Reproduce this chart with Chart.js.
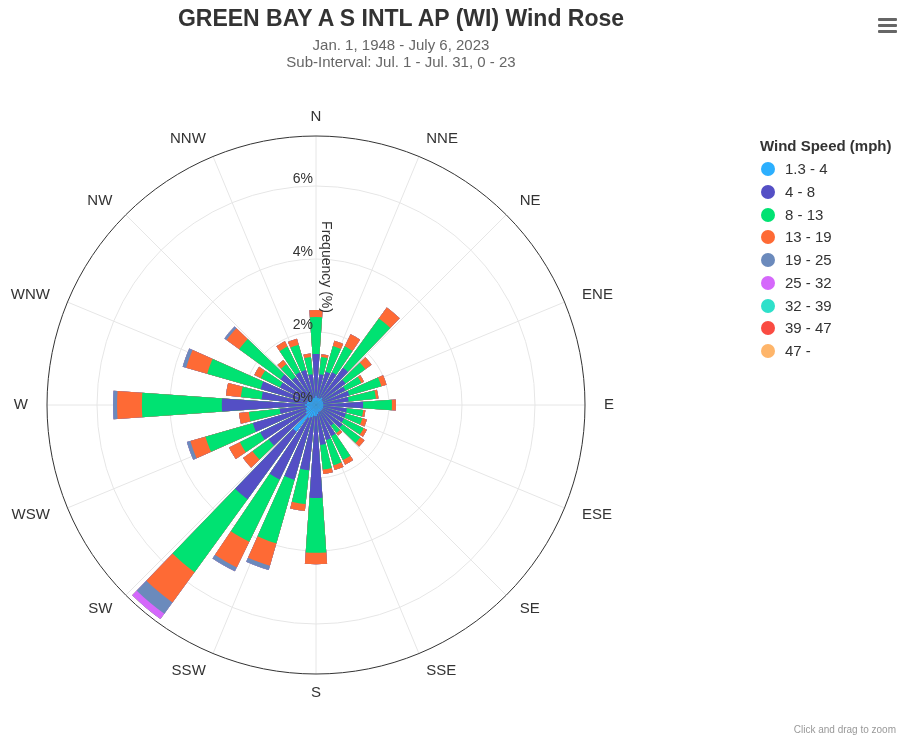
<!DOCTYPE html>
<html>
<head>
<meta charset="utf-8">
<title>Wind Rose</title>
<script src="https://cdn.jsdelivr.net/npm/chart.js@4.4.1/dist/chart.umd.min.js"></script>
<style>
  body { margin: 0; background: #fff; font-family: "Liberation Sans", Arial, Helvetica, sans-serif; }
  #wrap { position: relative; width: 898px; height: 739px; overflow: hidden; }
  #chartBox { position: absolute; left: 0; top: 0; width: 898px; height: 739px; }
  .ctr { position: absolute; transform: translateX(-50%); white-space: nowrap; }
  #title { left: 401px; top: 5px; font-size: 23px; font-weight: bold; color: #333; }
  .sub { font-size: 15px; color: #666; }
  #legend { position: absolute; left: 760px; top: 135px; color: #333; font-size: 15px; }
  #legend .head { font-weight: bold; height: 23px; line-height: 22px; white-space: nowrap; }
  #legend .item { position: relative; height: 22.75px; line-height: 22px; padding-left: 25px; white-space: nowrap; }
  #legend .dot { position: absolute; left: 1px; top: 4px; width: 14px; height: 14px; border-radius: 50%; }
  .burger { position: absolute; left: 878px; width: 19px; height: 3px; background: #666; border-radius: 1px; }
  #zoomNote { position: absolute; right: 2px; top: 724px; font-size: 10px; color: #999; }
</style>
</head>
<body>
<div id="wrap">
  <div id="chartBox"><canvas id="rose"></canvas></div>
  <div id="title" class="ctr">GREEN BAY A S INTL AP (WI) Wind Rose</div>
  <div class="ctr sub" style="left:401px; top:36px;">Jan. 1, 1948 - July 6, 2023</div>
  <div class="ctr sub" style="left:401px; top:53px;">Sub-Interval: Jul. 1 - Jul. 31, 0 - 23</div>
  <div id="legend"></div>
  <div class="burger" style="top:18px"></div>
  <div class="burger" style="top:24px"></div>
  <div class="burger" style="top:30px"></div>
  <div id="zoomNote">Click and drag to zoom</div>
</div>
<script>
// direction bins, 10 degrees each, starting at N
const binAngles = [0, 10, 20, 30, 40, 50, 60, 70, 80, 90, 100, 110, 120, 130, 140, 150, 160, 170,
  180, 190, 200, 210, 220, 230, 240, 250, 260, 270, 280, 290, 300, 310, 320, 330, 340, 350];

const compassLabels = ["N", "NNE", "NE", "ENE", "E", "ESE", "SE", "SSE",
  "S", "SSW", "SW", "WSW", "W", "WNW", "NW", "NNW"];

const speedBins = ["1.3 - 4", "4 - 8", "8 - 13", "13 - 19", "19 - 25", "25 - 32", "32 - 39", "39 - 47", "47 -"];
const speedColors = ["#2caffe", "#544fc5", "#00e272", "#fe6a35", "#6b8abc", "#d568fb", "#2ee0ca", "#fa4b42", "#feb56a"];

// frequency (%) per direction bin for each speed class
const s1_3to4 = [0.25, 0.20, 0.20, 0.20, 0.25, 0.20, 0.20, 0.20, 0.20, 0.20, 0.20, 0.20, 0.20, 0.20, 0.20, 0.20, 0.20, 0.25,
  0.30, 0.30, 0.35, 0.40, 0.90, 0.35, 0.30, 0.30, 0.25, 0.30, 0.25, 0.25, 0.20, 0.20, 0.20, 0.20, 0.20, 0.20];
const s4to8 = [1.15, 0.65, 0.75, 0.80, 1.01, 0.80, 0.70, 0.75, 0.70, 1.09, 0.65, 0.65, 0.65, 0.70, 0.50, 0.75, 0.80, 0.85,
  2.25, 1.50, 1.78, 1.87, 2.29, 1.25, 1.40, 1.50, 0.75, 2.28, 1.25, 1.33, 0.90, 1.00, 0.75, 0.80, 0.80, 0.65];
const s8to13 = [1.01, 0.47, 0.73, 0.79, 1.67, 0.67, 0.48, 0.91, 0.75, 0.79, 0.45, 0.47, 0.60, 0.60, 0.25, 0.73, 0.72, 0.68,
  1.50, 0.93, 1.81, 1.90, 2.47, 0.55, 0.62, 1.35, 0.85, 2.19, 0.57, 1.52, 0.58, 1.40, 0.43, 0.78, 0.72, 0.47];
const s13to19 = [0.19, 0.08, 0.15, 0.37, 0.37, 0.21, 0.08, 0.15, 0.07, 0.11, 0.06, 0.13, 0.10, 0.14, 0.08, 0.14, 0.13, 0.12,
  0.31, 0.19, 0.64, 0.78, 1.03, 0.32, 0.33, 0.43, 0.27, 0.68, 0.41, 0.60, 0.20, 0.43, 0.14, 0.16, 0.17, 0.10];
const s19to25 = [0, 0, 0, 0, 0, 0, 0, 0, 0, 0, 0, 0, 0, 0, 0, 0, 0, 0,
  0, 0, 0.12, 0.12, 0.38, 0, 0, 0.10, 0, 0.11, 0, 0.10, 0, 0.07, 0, 0, 0, 0];
const s25to32 = [0, 0, 0, 0, 0, 0, 0, 0, 0, 0, 0, 0, 0, 0, 0, 0, 0, 0,
  0, 0, 0, 0, 0.18, 0, 0, 0, 0, 0, 0, 0, 0, 0, 0, 0, 0, 0];
const s32to39 = binAngles.map(() => 0);
const s39to47 = binAngles.map(() => 0);
const s47up = binAngles.map(() => 0);

const seriesValues = [s1_3to4, s4to8, s8to13, s13to19, s19to25, s25to32, s32to39, s39to47, s47up];

const tickValues = [0, 2, 4, 6];
const tickLabels = ["0%", "2%", "4%", "6%"];
const axisMax = 7.37;

const barWidth = 8;   // degrees of each column
const gapWidth = 2;   // degrees of white gap

// polar area cannot stack, so each class is drawn as its cumulative total,
// the first dataset sits on top
const labels = [];
binAngles.forEach(a => { labels.push(a + "°"); labels.push(""); });

const datasets = speedBins.map((name, k) => {
  const data = [];
  binAngles.forEach((_, b) => {
    let sum = 0;
    for (let j = 0; j <= k; j++) sum += seriesValues[j][b];
    data.push(sum);
    data.push(0);
  });
  return {
    label: name,
    data: data,
    backgroundColor: speedColors[k],
    borderWidth: 0,
    angle: c => (c.dataIndex % 2 ? gapWidth : barWidth)
  };
});

const FONT = '"Liberation Sans", Arial, Helvetica, sans-serif';

const roseDecor = {
  id: "roseDecor",
  beforeDatasetsDraw(chart) {
    const s = chart.scales.r, ctx = chart.ctx;
    const cx = s.xCenter, cy = s.yCenter, R = s.drawingArea;
    ctx.save();
    ctx.strokeStyle = "#e6e6e6";
    ctx.lineWidth = 1;
    tickValues.forEach(v => {
      if (!v) return;
      ctx.beginPath();
      ctx.arc(cx, cy, s.getDistanceFromCenterForValue(v), 0, Math.PI * 2);
      ctx.stroke();
    });
    compassLabels.forEach((lab, i) => {
      const a = (i * 22.5 - 90) * Math.PI / 180;
      ctx.beginPath();
      ctx.moveTo(cx, cy);
      ctx.lineTo(cx + R * Math.cos(a), cy + R * Math.sin(a));
      ctx.stroke();
    });
    ctx.restore();
  },
  afterDatasetsDraw(chart) {
    const s = chart.scales.r, ctx = chart.ctx;
    const cx = s.xCenter, cy = s.yCenter, R = s.drawingArea;
    ctx.save();
    // outer axis line
    ctx.strokeStyle = "#333";
    ctx.lineWidth = 1;
    ctx.beginPath();
    ctx.arc(cx, cy, R, 0, Math.PI * 2);
    ctx.stroke();

    // compass labels: left of centre right-aligned, right of centre left-aligned
    ctx.fillStyle = "#333";
    ctx.font = "15px " + FONT;
    ctx.textBaseline = "middle";
    compassLabels.forEach((lab, i) => {
      const deg = i * 22.5;
      const a = (deg - 90) * Math.PI / 180;
      const d = R + 19;
      ctx.textAlign = (deg === 0 || deg === 180) ? "center" : (deg < 180 ? "left" : "right");
      ctx.fillText(lab, cx + d * Math.cos(a), cy + d * Math.sin(a));
    });

    // radial tick labels
    ctx.font = "14px " + FONT;
    ctx.textAlign = "right";
    tickValues.forEach((v, i) => {
      ctx.fillText(tickLabels[i], cx - 3, cy - s.getDistanceFromCenterForValue(v) - 7);
    });

    // axis title
    ctx.translate(cx + 10, cy - 138);
    ctx.rotate(Math.PI / 2);
    ctx.textAlign = "center";
    ctx.fillText("Frequency (%)", 0, 0);
    ctx.restore();
  }
};

new Chart(document.getElementById("rose"), {
  type: "polarArea",
  data: { labels: labels, datasets: datasets },
  options: {
    responsive: true,
    maintainAspectRatio: false,
    animation: false,
    layout: { padding: { left: 47, right: 313, top: 136, bottom: 65 } },
    plugins: {
      legend: { display: false },
      tooltip: { enabled: false }
    },
    scales: {
      r: {
        min: 0,
        max: axisMax,
        startAngle: -barWidth / 2,
        ticks: { display: false },
        grid: { display: false },
        angleLines: { display: false },
        pointLabels: { display: false }
      }
    }
  },
  plugins: [roseDecor]
});

// legend
const legendEl = document.getElementById("legend");
legendEl.innerHTML = '<div class="head">Wind Speed (mph)</div>' +
  speedBins.map((n, k) => '<div class="item"><span class="dot" style="background:' + speedColors[k] + '"></span>' + n + '</div>').join("");
</script>
</body>
</html>
